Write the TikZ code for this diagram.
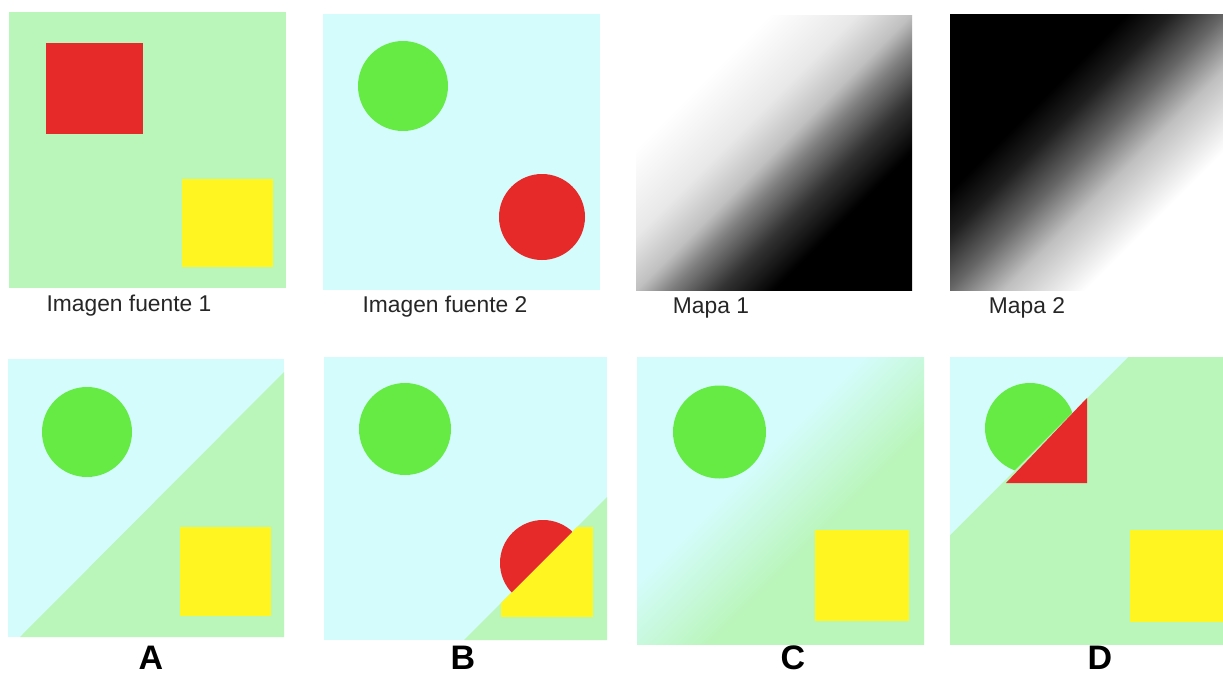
\documentclass[tikz,border=0pt]{standalone}
\usepackage{fontspec}
\setmainfont{Liberation Sans}
\definecolor{bgGreen}{RGB}{186,245,186}
\definecolor{bgCyan}{RGB}{212,252,252}
\definecolor{shRed}{RGB}{230,42,42}
\definecolor{shYellow}{RGB}{255,245,32}
\definecolor{shGreen}{RGB}{102,235,68}
\pgfdeclareverticalshading{mapaone}{100bp}{color(0bp)=(black); color(32.3bp)=(black); color(39.4bp)=(black!80); color(45.8bp)=(black!50); color(50bp)=(black!25); color(57.1bp)=(black!9); color(68.4bp)=(white); color(100bp)=(white)}
\pgfdeclareverticalshading{mapatwo}{100bp}{color(0bp)=(white); color(32.3bp)=(white); color(42.9bp)=(black!25); color(50bp)=(black!60); color(57.1bp)=(black!88); color(62.7bp)=(black); color(100bp)=(black)}
\pgfdeclareverticalshading{blendc}{100bp}{color(0bp)=(bgGreen); color(40.8bp)=(bgGreen); color(49.3bp)=(bgGreen!50!bgCyan); color(57.8bp)=(bgCyan); color(100bp)=(bgCyan)}
\tikzset{
  caption/.style={font=\fontsize{11.4pt}{13pt}\selectfont, inner sep=0pt, text=black!85},
  letter/.style={font=\fontsize{17pt}{19pt}\selectfont\bfseries, inner sep=0pt},
}
\begin{document}
\begin{tikzpicture}[x=0.5pt,y=-0.5pt]
\useasboundingbox (0,0) rectangle (1223,676);
\fill[white] (0,0) rectangle (1223,676);
% ---- Imagen fuente 1
\fill[bgGreen] (9,12) rectangle (286,288);
\fill[shRed] (46,43) rectangle (143,134);
\fill[shYellow] (182,179) rectangle (273,267);
\node[caption] (c1) at (129,306) {Imagen fuente 1};
% ---- Imagen fuente 2
\fill[bgCyan] (323,14) rectangle (600,290);
\fill[shGreen] (403,86) circle [radius=45];
\fill[shRed] (542,217) circle [radius=43];
\node[caption] (c2) at (445,307) {Imagen fuente 2};
% ---- Mapa 1
\shade[shading=mapaone, shading angle=45] (636,15) rectangle (912,290);
\node[caption] (c3) at (711,308) {Mapa 1};
% ---- Mapa 2
\shade[shading=mapatwo, shading angle=45] (950,14) rectangle (1223,290);
\node[caption] (c4) at (1027,308) {Mapa 2};
% ---- A
\fill[bgCyan] (8,359) rectangle (284,637);
\fill[bgGreen] (20,637) -- (284,372) -- (284,637) -- cycle;
\fill[shGreen] (87,432) circle [radius=45];
\fill[shYellow] (180,527) rectangle (271,616);
\node[letter] (la) at (151,658) {A};
% ---- B
\fill[bgCyan] (324,357) rectangle (607,640);
\fill[bgGreen] (464,640) -- (607,497) -- (607,640) -- cycle;
\fill[shGreen] (405,429) circle [radius=46];
\begin{scope}
  \clip (464,640) -- (607,497) -- (607,640) -- cycle;
  \fill[shYellow] (501,527) rectangle (593,617);
\end{scope}
\begin{scope}
  \clip (324,357) -- (607,357) -- (607,497) -- (464,640) -- (324,640) -- cycle;
  \fill[shRed] (543,563) circle [radius=43];
\end{scope}
\node[letter] (lb) at (463,658) {B};
% ---- C
\shade[shading=blendc, shading angle=45] (637,357) rectangle (924,644);
\fill[shGreen] (719.5,432) circle [radius=46.5];
\fill[shYellow] (815,530) rectangle (909,621);
\node[letter] (lc) at (793,658) {C};
% ---- D
\fill[bgGreen] (950,357) rectangle (1223,645);
\fill[bgCyan] (950,357) -- (1128,357) -- (950,535) -- cycle;
\begin{scope}
  \clip (950,357) -- (1128,357) -- (950,535) -- cycle;
  \fill[shGreen] (1030,428) circle [radius=45];
\end{scope}
\fill[shRed] (1006,483) -- (1087,483) -- (1087,398) -- cycle;
\fill[shYellow] (1130,530) rectangle (1223,622);
\node[letter] (ld) at (1100,658) {D};
\end{tikzpicture}
\end{document}
